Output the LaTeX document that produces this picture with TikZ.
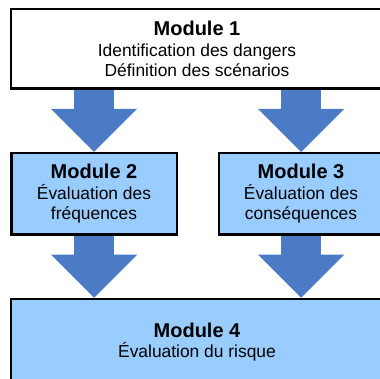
\documentclass[tikz,border=0pt]{standalone}
\usepackage{fontspec}
\setmainfont{Liberation Sans}
\usetikzlibrary{arrows.meta}
\definecolor{boxblue}{HTML}{99CCFF}
\definecolor{flowblue}{HTML}{4A7BC4}
\tikzset{
  module/.style={draw=black, line width=2.5pt, inner sep=0pt, align=center,
    font=\fontsize{17.4}{20.5}\selectfont},
  flow/.style={draw=flowblue, line width=40pt,
    -{Triangle[width=86pt,length=43pt,line width=0pt]}},
}
\newcommand{\modtitle}[1]{{\fontsize{20}{20.5}\selectfont\bfseries #1}}
\begin{document}
\begin{tikzpicture}[x=1pt,y=-1pt]
  \useasboundingbox (0,0) rectangle (380,379);
  \node[module, fill=white, minimum width=372pt, minimum height=79.5pt] (m1) at (197,49)
    {\modtitle{Module 1}\\Identification des dangers\\Définition des scénarios};
  \node[module, fill=boxblue, minimum width=165.5pt, minimum height=81.5pt] (m2) at (94,194)
    {\modtitle{Module 2}\\Évaluation des\\fréquences};
  \node[module, fill=boxblue, minimum width=164pt, minimum height=81.5pt] (m3) at (301,194)
    {\modtitle{Module 3}\\Évaluation des\\conséquences};
  \node[module, fill=boxblue, minimum width=372pt, minimum height=86pt] (m4) at (197,342)
    {\modtitle{Module 4}\\Évaluation du risque};
  \draw[flow] (m1.south -| m2.north) -- (m2.north);
  \draw[flow] (m1.south -| m3.north) -- (m3.north);
  \draw[flow] (m2.south) -- (m4.north -| m2.south);
  \draw[flow] (m3.south) -- (m4.north -| m3.south);
\end{tikzpicture}
\end{document}
